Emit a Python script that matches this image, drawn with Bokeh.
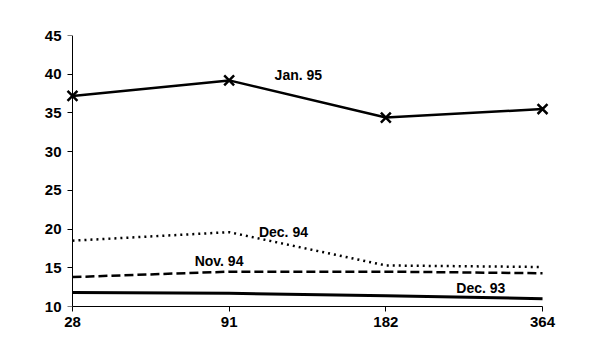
from bokeh.plotting import figure
from bokeh.models import Range1d, FixedTicker, Label, LinearAxis
from bokeh.embed import file_html
from bokeh.resources import INLINE

maturities = ["28", "91", "182", "364"]
jan95 = [37.2, 39.2, 34.4, 35.5]
dec94 = [18.5, 19.6, 15.3, 15.1]
nov94 = [13.8, 14.5, 14.5, 14.3]
dec93 = [11.8, 11.7, 11.4, 11.0]
series_labels = ["Jan. 95", "Dec. 94", "Nov. 94", "Dec. 93"]
y_ticks = [10, 15, 20, 25, 30, 35, 40, 45]

xs = list(range(len(maturities)))

p = figure(width=584, height=344, output_backend="svg", toolbar_location=None,
           x_range=Range1d(-0.07, 3.07), y_range=Range1d(10, 45),
           min_border_left=61, min_border_right=31, min_border_top=35, min_border_bottom=38)
p.outline_line_color = None
p.grid.visible = False
p.background_fill_color = "white"

p.line(xs, dec93, line_color="black", line_width=3)
p.line(xs, nov94, line_color="black", line_width=2.5, line_dash="9 4")
p.line(xs, dec94, line_color="black", line_width=2.5, line_dash="2 4")
p.line(xs, jan95, line_color="black", line_width=2.5)
p.scatter(xs, jan95, marker="x", size=14, line_color="black", line_width=2.5)

font = "Liberation Sans"
for ax in (p.xaxis[0], p.yaxis[0]):
    ax.axis_line_color = "black"
    ax.axis_line_width = 1
    ax.major_tick_line_color = "black"
    ax.major_tick_in = 0
    ax.major_tick_out = 5
    ax.minor_tick_line_color = None
    ax.major_label_text_font = font
    ax.major_label_text_font_style = "bold"
    ax.major_label_text_font_size = "15px"
    ax.major_label_text_color = "black"

p.xaxis.ticker = FixedTicker(ticks=xs)
p.xaxis.major_label_overrides = {i: m for i, m in enumerate(maturities)}
p.xaxis.major_label_standoff = 5
p.xaxis.bounds = (0, 3)

# label-only y axis at frame left
p.yaxis.ticker = FixedTicker(ticks=y_ticks)
p.yaxis.axis_line_color = None
p.yaxis.major_tick_line_color = None
p.yaxis.major_tick_out = 0
p.yaxis.major_label_standoff = 0

# axis line + ticks at x = first category
yline = LinearAxis(ticker=FixedTicker(ticks=y_ticks), fixed_location=0,
                   axis_line_color="black", major_tick_line_color="black",
                   major_tick_in=5, major_tick_out=0, minor_tick_line_color=None,
                   major_label_text_color=None, major_label_text_font_size="1px")
p.add_layout(yline, "right")

label_pos = [(1.29, 39.9), (1.19, 19.65), (0.78, 15.85), (2.45, 12.35)]
for txt, (lx, ly) in zip(series_labels, label_pos):
    p.add_layout(Label(x=lx, y=ly, text=txt, text_font=font, text_font_style="bold",
                       text_font_size="14px", text_color="black",
                       text_baseline="alphabetic", text_align="left"))

open("out.html", "w").write(file_html(p, INLINE))
